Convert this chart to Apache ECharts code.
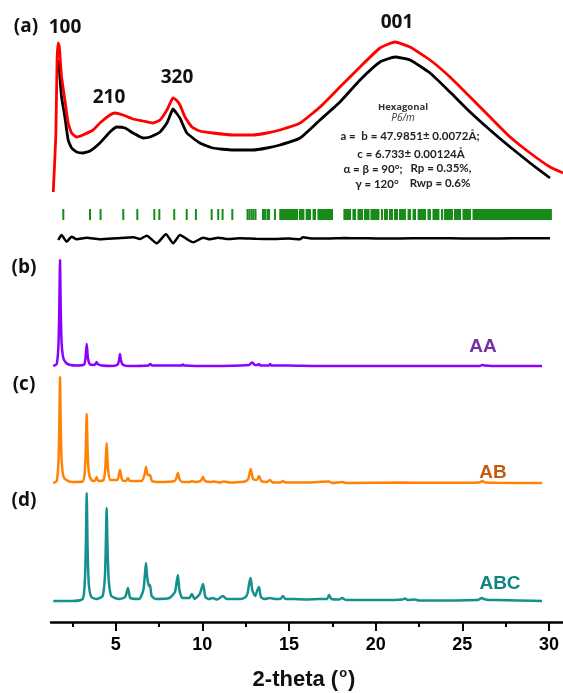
<!DOCTYPE html>
<html>
<head>
<meta charset="utf-8">
<script src="https://cdn.jsdelivr.net/npm/echarts@6/dist/echarts.min.js"></script>
<style>html,body{margin:0;padding:0;background:#fff;}#c{width:563px;height:693px;}</style>
</head>
<body>
<div id="c"></div>
<script>
// ---- data (2-theta in degrees, intensity in arbitrary units) ----
const xMin = 1.27, xMax = 30.81;
const majorTicks = [5, 10, 15, 20, 25, 30];
const minorTicks = [2.5, 7.5, 12.5, 17.5, 22.5, 27.5];

// (a) experimental (red) and calculated (black)
const observed = [[1.40,3],[1.55,60],[1.62,135],[1.69,152],[1.75,148],[1.88,118],[2.07,95],[2.26,72],[2.46,62],[2.75,58],[3.11,60],[3.69,65],[4.09,72],[4.67,80],[4.96,82],[5.42,80],[6.00,76],[6.58,74],[7.15,72],[7.56,75],[7.96,85],[8.15,92],[8.31,97],[8.50,95],[8.71,90],[9.00,78],[9.40,68],[9.86,64],[10.61,62],[11.77,60],[12.92,60],[13.73,62],[14.48,65],[15.64,72],[16.79,88],[17.94,108],[19.10,128],[20.25,147],[21.12,153],[21.98,148],[23.14,135],[24.29,118],[25.45,98],[26.60,78],[27.76,58],[28.91,42],[30.06,28],[30.81,22]];
const calculated = [[1.69,135],[1.75,125],[1.88,98],[2.07,78],[2.26,55],[2.46,47],[2.75,43],[3.11,42],[3.52,44],[4.09,52],[4.67,63],[5.07,68],[5.54,67],[6.00,62],[6.58,57],[6.98,58],[7.56,63],[7.96,72],[8.15,80],[8.31,86],[8.50,82],[8.71,77],[9.11,62],[9.86,52],[10.61,47],[11.77,45],[12.92,45],[13.73,47],[14.48,50],[15.64,57],[16.79,75],[17.94,93],[19.10,115],[20.25,133],[21.12,138],[21.98,135],[23.14,122],[24.29,103],[25.45,83],[26.60,65],[27.76,48],[28.91,32],[30.06,17]];
const difference = [[1.69,0],[1.88,5],[2.17,-1.7],[2.46,3.3],[2.75,0.7],[3.33,2.3],[4.09,0.7],[5.06,1.7],[6.02,2.7],[6.40,1],[6.79,4.3],[7.37,-3.3],[7.90,5.7],[8.32,-3.3],[8.71,5],[9.19,0],[9.48,-2.3],[10.05,2.3],[10.44,0.7],[10.92,2.3],[11.40,1],[12.17,1.7],[13.1,1.2],[14.08,1],[15.0,1.4],[15.63,0.7],[15.81,2.7],[16.4,1.4],[17.37,1.5],[18.2,1.9],[19.10,1.8],[20.3,1.4],[21.40,1.5],[22.8,1.8],[24.29,1.8],[25.7,1.4],[27.17,1.5],[28.6,1.8],[30.06,1.7]];
// Bragg reflection markers [from, to] in 2-theta
const reflections = [[1.98,1.98],[3.52,3.52],[4.13,4.13],[5.44,5.44],[6.25,6.25],[7.23,7.23],[7.52,7.52],[8.38,8.38],[9.10,9.10],[9.63,9.63],[10.54,10.54],[10.92,10.92],[11.17,11.17],[11.73,11.73],[12.61,12.61],[12.72,12.72],[12.84,12.84],[12.95,12.95],[13.07,13.07],[13.50,13.50],[13.62,13.62],[13.76,13.76],[13.85,13.85],[14.19,14.19],[14.44,15.52],[15.58,15.89],[15.96,16.27],[16.36,16.56],[16.64,17.54],[18.14,18.58],[18.66,18.87],[18.95,19.27],[19.33,19.65],[19.70,20.22],[20.31,20.42],[20.48,20.71],[20.77,21.00],[21.06,21.29],[21.35,21.75],[21.84,22.04],[22.13,22.33],[22.42,22.91],[22.99,23.19],[23.28,23.68],[23.77,23.89],[23.94,24.46],[24.52,24.93],[25.01,25.50],[25.59,30.17]];
// (b) AA, (c) AB, (d) ABC simulated patterns
const patternAA = [[1.40,1],[1.60,3],[1.70,22],[1.75,60],[1.79,107],[1.83,60],[1.88,25],[1.98,9],[2.15,4],[2.40,2],[2.80,1.5],[3.18,2.5],[3.26,9],[3.33,23],[3.40,9],[3.50,3],[3.70,2],[3.84,3],[3.90,5],[3.96,3],[4.20,1.5],[4.80,1],[5.12,2.5],[5.20,7],[5.25,13],[5.30,7],[5.40,2.5],[5.70,1],[6.90,1.5],[7.00,3],[7.10,1.5],[8.80,1.5],[8.88,2.5],[8.96,1.5],[10.5,1],[12.70,2],[12.82,4],[12.90,4.5],[13.02,2],[13.20,2],[13.27,3],[13.35,1.5],[13.85,1.5],[13.91,3],[13.98,1.5],[15.0,1.5],[16.5,1],[18.0,1],[26.0,1],[26.14,2],[26.30,1.5],[27.0,1],[29.6,1]];
const patternAB = [[1.40,1],[1.60,3],[1.70,22],[1.75,60],[1.79,107],[1.83,60],[1.88,25],[1.98,8],[2.15,4],[2.50,2],[3.10,2.5],[3.22,12],[3.28,35],[3.33,70],[3.38,35],[3.45,12],[3.60,4],[3.80,3],[3.90,7],[4.00,3],[4.30,4],[4.40,15],[4.48,41],[4.56,15],[4.70,4],[5.10,4],[5.25,14],[5.38,4],[5.60,3],[5.71,6],[5.82,3],[6.50,3],[6.68,10],[6.75,17],[6.85,9],[6.98,9],[7.10,3],[7.50,2],[8.40,3],[8.52,7],[8.59,11],[8.68,5],[8.85,2],[9.30,2],[9.40,3],[9.55,2],[9.90,3],[10.04,7],[10.15,3],[10.50,2],[10.67,2.5],[11.0,1.5],[11.25,2.5],[11.6,1.5],[12.2,2],[12.46,2.5],[12.65,5],[12.79,15],[12.93,5],[13.15,4],[13.27,8],[13.40,3],[13.70,2],[13.91,4],[14.05,1.5],[14.50,1.5],[14.65,3],[14.80,1.5],[16.0,1.5],[17.31,2.5],[17.5,1],[18.06,2],[18.3,1],[21.7,1.5],[22.3,1.2],[26.0,1.5],[26.14,3],[26.35,1.5],[27.0,1.2],[29.6,1]];
const patternABC = [[1.40,1],[2.5,1],[3.10,3],[3.22,20],[3.28,55],[3.33,109],[3.38,55],[3.45,18],[3.60,5],[3.90,3],[4.25,6],[4.38,25],[4.43,55],[4.48,94],[4.53,55],[4.60,22],[4.75,6],[5.20,3],[5.55,5],[5.71,14],[5.85,4],[6.35,3],[6.60,12],[6.70,30],[6.75,39],[6.82,25],[6.92,16],[6.98,17],[7.08,6],[7.30,3],[8.10,4],[8.42,10],[8.52,20],[8.59,27],[8.68,12],[8.85,4],[9.25,4],[9.40,8],[9.55,3],[9.85,8],[10.04,18],[10.18,5],[10.40,3],[10.61,4],[10.85,2.5],[11.19,6],[11.40,3],[11.77,3],[12.2,3],[12.46,4.5],[12.60,8],[12.72,20],[12.79,24],[12.88,12],[13.05,6],[13.18,12],[13.27,15],[13.38,5],[13.60,3],[13.91,4],[14.2,3],[14.50,3],[14.65,6],[14.80,3],[15.3,3],[16.0,2.5],[16.7,3],[17.2,3],[17.31,7],[17.45,3],[17.9,2.5],[18.06,4],[18.3,2],[19.6,2],[20.5,2],[21.55,2.5],[21.69,3.5],[21.85,2],[22.27,2.5],[22.5,1.5],[25.9,2],[26.05,3.5],[26.14,4],[26.25,3],[26.50,2],[27.0,2],[29.6,1]];

// ---- chart ----
const chart = echarts.init(document.getElementById('c'), null, {renderer: 'canvas'});
const L = 51, R = 0;
const grids = [
  {left: L, right: R, top: 35, height: 160},   // 0 (a) fit
  {left: L, right: R, top: 209, height: 11},   // 1 reflections
  {left: L, right: R, top: 229, height: 22},   // 2 difference
  {left: L, right: R, top: 257, height: 110},  // 3 (b)
  {left: L, right: R, top: 374, height: 110},  // 4 (c)
  {left: L, right: R, top: 492, height: 110},  // 5 (d)
  {left: L, right: R, top: 612, height: 10}    // 6 axis
];
const hiddenX = i => ({type: 'value', gridIndex: i, min: xMin, max: xMax, show: false});
const hiddenY = (i, mn, mx) => ({type: 'value', gridIndex: i, min: mn, max: mx, show: false});
const xAxes = [0,1,2,3,4,5].map(hiddenX);
xAxes.push({
  type: 'value', gridIndex: 6, min: xMin, max: xMax, position: 'bottom',
  axisLine: {show: true, lineStyle: {color: '#000', width: 2.5}},
  axisTick: {show: true, length: 9, lineStyle: {color: '#000', width: 2}, customValues: majorTicks},
  axisLabel: {show: true, margin: 14, customValues: majorTicks, color: '#000', fontSize: 18, fontWeight: 'bold', fontFamily: 'Liberation Sans, Arial, sans-serif'},
  splitLine: {show: false}
});
xAxes.push({
  type: 'value', gridIndex: 6, min: xMin, max: xMax, position: 'bottom',
  axisLine: {show: false},
  axisTick: {show: true, length: 5, lineStyle: {color: '#000', width: 2}, customValues: minorTicks},
  axisLabel: {show: false},
  splitLine: {show: false}
});
const yAxes = [
  hiddenY(0, 0, 160), hiddenY(1, 0, 1), hiddenY(2, -11, 11),
  hiddenY(3, 0, 110), hiddenY(4, 0, 110), hiddenY(5, 0, 110), hiddenY(6, 0, 1)
];
const line = (data, xi, color, w, sm) => ({
  type: 'line', data, xAxisIndex: xi, yAxisIndex: xi, showSymbol: false, symbol: 'none',
  lineStyle: {color, width: w}, smooth: sm, z: 3
});
const series = [
  line(calculated, 0, '#000000', 2.8, 0.15),
  line(observed, 0, '#ff0000', 2.8, 0.15),
  {
    type: 'custom', xAxisIndex: 1, yAxisIndex: 1, data: reflections,
    encode: {x: [0, 1], y: -1},
    renderItem: function (params, api) {
      const p1 = api.coord([api.value(0), 1]);
      const p2 = api.coord([api.value(1), 0]);
      let x = p1[0], w = p2[0] - p1[0];
      if (w < 2) { x = (p1[0] + p2[0]) / 2 - 1; w = 2; }
      return {type: 'rect', shape: {x: x, y: p1[1], width: w, height: p2[1] - p1[1]}, style: {fill: '#188a18'}};
    }
  },
  line(difference, 2, '#000000', 2.5, 0.2),
  line(patternAA, 3, '#8c00ff', 2.5, 0.2),
  line(patternAB, 4, '#ff8205', 2.5, 0.2),
  line(patternABC, 5, '#14908e', 2.5, 0.2),
  {type: 'line', data: [], xAxisIndex: 6, yAxisIndex: 6}
];
const cal = '"Open Sans", Lato, sans-serif';
const ari = '"Liberation Sans", Arial, sans-serif';
const txt = (text, x, y, size, opts) => Object.assign({
  type: 'text', x: x, y: y,
  style: Object.assign({text: text, fontSize: size, fontWeight: 'bold', fontFamily: cal, fill: '#111', align: 'center', verticalAlign: 'middle'}, (opts || {}))
});
const graphic = [
  txt('(a)', 26, 27, 19),
  txt('(b)', 24, 268, 19),
  txt('(c)', 24, 385, 19),
  txt('(d)', 24, 501, 19),
  txt('100', 65, 28, 19),
  txt('210', 109, 98, 19),
  txt('320', 177, 78, 19),
  txt('001', 397, 23, 19),
  txt('Hexagonal', 403, 107, 9.5, {fill: '#333'}),
  txt('P6/m', 403, 118, 10, {fill: '#333', fontStyle: 'italic', fontWeight: 'normal'}),
  txt('a =  b = 47.9851\u00b1 0.0072\u00c5;', 410, 136, 11.5, {fill: '#222', fontFamily: 'Lato, sans-serif'}),
  txt('c = 6.733\u00b1 0.00124\u00c5', 411, 154, 11.5, {fill: '#222', fontFamily: 'Lato, sans-serif'}),
  txt('\u03b1 = \u03b2 = 90\u00b0;', 373, 169, 11.5, {fill: '#222', fontFamily: 'Lato, sans-serif'}),
  txt('Rp = 0.35%,', 441, 168, 11.5, {fill: '#222', fontFamily: 'Lato, sans-serif'}),
  txt('\u03b3 = 120\u00b0', 377, 184, 11.5, {fill: '#222', fontFamily: 'Lato, sans-serif'}),
  txt('Rwp = 0.6%', 440, 183, 11.5, {fill: '#222', fontFamily: 'Lato, sans-serif'}),
  txt('AA', 483, 347, 19, {fontFamily: ari, fill: '#7330a2'}),
  txt('AB', 493, 473, 19, {fontFamily: ari, fill: '#c55a11'}),
  txt('ABC', 500, 584, 19, {fontFamily: ari, fill: '#0f8584'}),
  {
    type: 'text', x: 304, y: 680,
    style: {
      text: '{a|2-theta (}{s|o}{a|)}', align: 'center', verticalAlign: 'middle',
      rich: {
        a: {fontSize: 22, fontWeight: 'bold', fontFamily: ari, fill: '#111', color: '#111'},
        s: {fontSize: 13, fontWeight: 'bold', fontFamily: ari, fill: '#111', color: '#111', padding: [0, 1, 14, 1]}
      }
    }
  }
];
chart.setOption({
  animation: false,
  backgroundColor: '#ffffff',
  grid: grids,
  xAxis: xAxes,
  yAxis: yAxes,
  series: series,
  graphic: graphic
});
</script>
</body>
</html>
